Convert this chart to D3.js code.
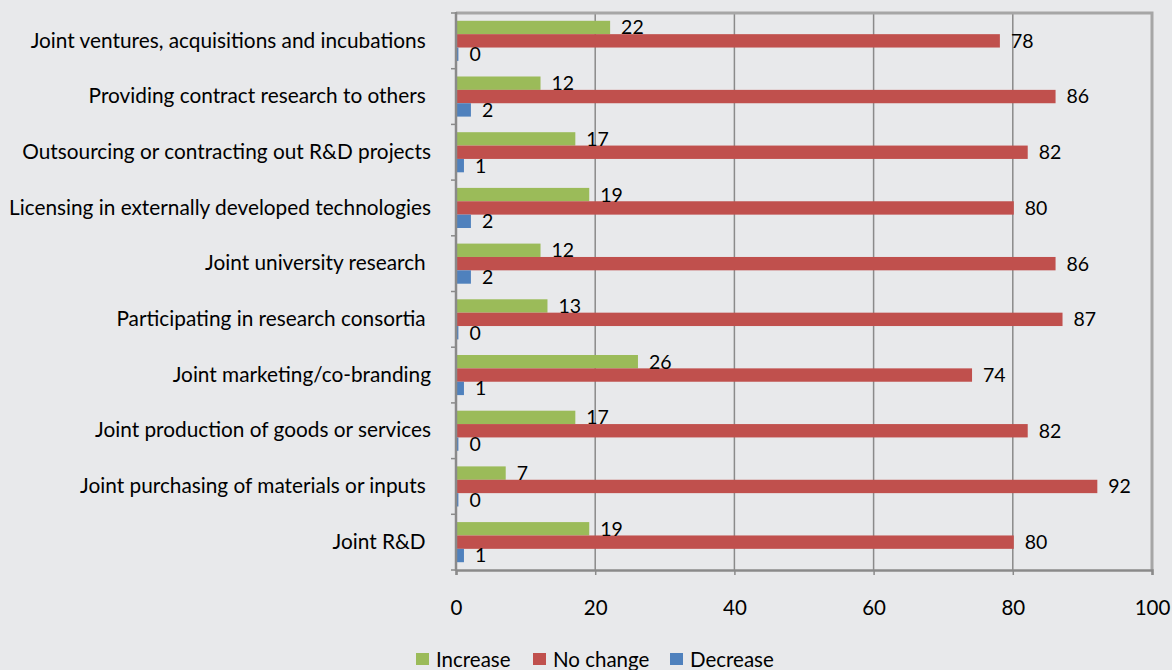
<!DOCTYPE html>
<html>
<head>
<meta charset="utf-8">
<script src="https://cdn.jsdelivr.net/npm/d3@7"></script>
<style>
  body { margin: 0; background: #e8e9eb; }
  svg { display: block; font-family: Lato, "Open Sans", sans-serif; }
</style>
</head>
<body>
<div id="container"></div>
<script>
let w = 1172;
let h = 670;

// DATA (top to bottom, as in the picture; some source labels carry a trailing space)
let categories = [
  "Joint ventures, acquisitions and incubations\u00a0",
  "Providing contract research to others\u00a0",
  "Outsourcing or contracting out R&D projects",
  "Licensing in externally developed technologies",
  "Joint university research\u00a0",
  "Participating in research consortia\u00a0",
  "Joint marketing/co-branding",
  "Joint production of goods or services",
  "Joint purchasing of materials or inputs\u00a0",
  "Joint R&D\u00a0"
];
let increase = [22, 12, 17, 19, 12, 13, 26, 17, 7, 19];
let noChange = [78, 86, 82, 80, 86, 87, 74, 82, 92, 80];
let decrease = [0.2, 2, 1, 2, 2, 0.2, 1, 0.2, 0.2, 1];
let seriesNames = ["Increase", "No change", "Decrease"];
let seriesColors = ["#9bbb59", "#c0504d", "#4f81bd"];
let xTicks = [0, 20, 40, 60, 80, 100];

let pLeft = 456, pRight = 1152, pTop = 13, pBottom = 570;

let viz = d3.select("#container").append("svg")
    .attr("width", w)
    .attr("height", h)
    .style("background-color", "#e8e9eb");

let xScale = d3.scaleLinear().domain([0, 100]).range([pLeft, pRight]);
let yScale = d3.scaleBand().domain(categories).range([pTop, pBottom]);
let groupH = yScale.bandwidth() * 0.72;
let ySub = d3.scaleBand().domain(seriesNames).range([0, groupH]);

// gridlines
viz.append("g").selectAll("line").data(xTicks.slice(1, -1)).enter()
  .append("line")
    .attr("x1", d => xScale(d)).attr("x2", d => xScale(d))
    .attr("y1", pTop).attr("y2", pBottom)
    .attr("stroke", "#8a8a8a").attr("stroke-width", 1.5);

// plot border top/right
viz.append("path")
    .attr("d", `M${pLeft},${pTop}H${pRight}V${pBottom}`)
    .attr("fill", "none").attr("stroke", "#a6a6a6").attr("stroke-width", 3);

// bars
let rows = categories.map(function(c, i){
  return { cat: c, values: [increase[i], noChange[i], decrease[i]] };
});

let groups = viz.append("g").selectAll("g").data(rows).enter()
  .append("g")
    .attr("transform", d => `translate(0,${yScale(d.cat) + (yScale.bandwidth() - groupH) / 2})`);

groups.selectAll("rect").data(d => d.values.map((v, j) => ({ v: v, s: seriesNames[j], c: seriesColors[j] })))
  .enter().append("rect")
    .attr("x", xScale(0) + 1)
    .attr("y", d => ySub(d.s))
    .attr("width", d => xScale(d.v) - xScale(0))
    .attr("height", ySub.bandwidth())
    .attr("fill", d => d.c);

groups.selectAll("text").data(d => d.values.map((v, j) => ({ v: v, s: seriesNames[j] })))
  .enter().append("text")
    .attr("x", d => xScale(d.v) + 12)
    .attr("y", d => ySub(d.s) + ySub.bandwidth() / 2 + 2)
    .attr("dominant-baseline", "middle")
    .attr("font-size", 19.5)
    .attr("fill", "#000")
    .text(d => Math.round(d.v));

// left axis
let yAxis = d3.axisLeft(yScale).tickSize(0).tickPadding(25);
let yG = viz.append("g").attr("transform", `translate(${pLeft},0)`).call(yAxis);
yG.select(".domain").remove();
yG.selectAll("text").attr("font-size", 20.8).attr("font-family", "Lato, sans-serif")
  .attr("fill", "#000").style("white-space", "pre");
// category boundary ticks
viz.append("g").selectAll("line").data(d3.range(categories.length + 1)).enter()
  .append("line")
    .attr("x1", pLeft - 5).attr("x2", pLeft)
    .attr("y1", i => pTop + i * yScale.step()).attr("y2", i => pTop + i * yScale.step())
    .attr("stroke", "#8a8a8a").attr("stroke-width", 1.5);
viz.append("line")
    .attr("x1", pLeft).attr("x2", pLeft).attr("y1", pTop - 1).attr("y2", pBottom + 1)
    .attr("stroke", "#8a8a8a").attr("stroke-width", 2.5);

// bottom axis
let xAxis = d3.axisBottom(xScale).tickValues(xTicks).tickSize(5).tickPadding(25);
let xG = viz.append("g").attr("transform", `translate(0,${pBottom})`).call(xAxis);
xG.select(".domain").attr("stroke", "#8a8a8a").attr("stroke-width", 2.5);
xG.selectAll("line").attr("stroke", "#8a8a8a").attr("stroke-width", 1.5);
xG.selectAll("text").attr("font-size", 20.5).attr("font-family", "Lato, sans-serif").attr("fill", "#000");

// legend
let legendX = [416, 533, 670];
let legend = viz.append("g").selectAll("g").data(seriesNames).enter()
  .append("g")
    .attr("transform", (d, i) => `translate(${legendX[i]},653)`);
legend.append("rect")
    .attr("width", 13).attr("height", 12)
    .attr("fill", (d, i) => seriesColors[i]);
legend.append("text")
    .attr("x", 20).attr("y", 14)
    .attr("font-size", 20.5)
    .attr("fill", "#000")
    .text(d => d);
</script>
</body>
</html>
